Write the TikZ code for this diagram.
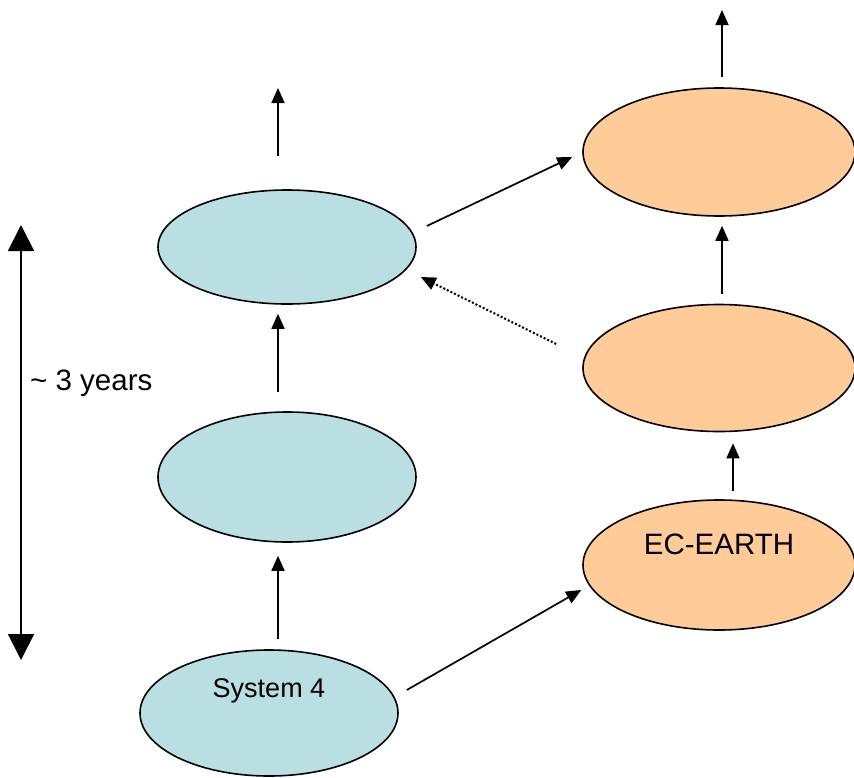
\documentclass[tikz,border=0pt]{standalone}
\usepackage{fontspec}
\setmainfont{Liberation Sans}
\usetikzlibrary{shapes.geometric,arrows.meta}
\definecolor{blueell}{HTML}{B9DFE2}
\definecolor{orangeell}{HTML}{FFCC99}
\begin{document}
\begin{tikzpicture}[x=1pt,y=-1pt,
  ell/.style={ellipse,draw=black,line width=1.6pt,inner sep=0pt,minimum width=258pt},
  blueel/.style={ell,fill=blueell},
  orangeel/.style={ell,fill=orangeell,minimum width=272pt},
  arr/.style={line width=1.7pt,-{Triangle[length=15pt,width=13pt]}},
  dotarr/.style={arr,line width=2pt,dash pattern=on 2pt off 2pt},
  bigarr/.style={line width=1.8pt,{Triangle[length=26pt,width=26pt]}-{Triangle[length=26pt,width=26pt]}},
  lbl/.style={font=\fontsize{29.5}{34}\selectfont},
  slbl/.style={font=\fontsize{27}{31}\selectfont}
]
\useasboundingbox (0,0) rectangle (854,777);
\begin{scope}
\clip (0,0) rectangle (854,777);
% blue column
\node[blueel,minimum height=126pt,
  label={[slbl,yshift=22pt]center:System 4}] (b1) at (269,713) {};
\node[blueel,minimum height=130pt] (b2) at (287,477) {};
\node[blueel,minimum height=114pt] (b3) at (287,247) {};
% orange column
\node[orangeel,minimum height=130pt,
  label={[lbl,yshift=21pt]center:EC-EARTH}] (o1) at (719,565) {};
\node[orangeel,minimum height=127pt] (o2) at (719,368) {};
\node[orangeel,minimum height=128pt] (o3) at (719,152) {};
\end{scope}
\coordinate (bt) at (278,88);
\coordinate (ot) at (722,10);
% vertical arrows
\draw[arr] ([shift={(9,-10)}]b1.north) -- ([shift={(-9,13)}]b2.south);
\draw[arr] ([shift={(-9,-19)}]b2.north) -- ([shift={(-9,9)}]b3.south);
\draw[arr] ([shift={(-9,-33)}]b3.north) -- (bt);
\draw[arr] ([shift={(14,-8)}]o1.north) -- ([shift={(14,11)}]o2.south);
\draw[arr] ([shift={(3,-10)}]o2.north) -- ([shift={(3,9)}]o3.south);
\draw[arr] ([shift={(3,-10)}]o3.north) -- (ot);
% diagonal arrows
\draw[arr] ([shift={(8,-23)}]b1.east) -- ([shift={(-1,25)}]o1.west);
\draw[arr] ([shift={(10,-21)}]b3.east) -- ([shift={(-10,5)}]o3.west);
\draw[dotarr] ([shift={(-26,-24)}]o2.west) -- ([shift={(4,30)}]b3.east);
% time span
\coordinate (tt) at (21,225);
\coordinate (tb) at (21,660);
\draw[bigarr] (tt) -- (tb);
\node[lbl,anchor=west,inner sep=0pt] (yrs) at (30,383) {\textasciitilde\ 3 years};
\end{tikzpicture}
\end{document}
